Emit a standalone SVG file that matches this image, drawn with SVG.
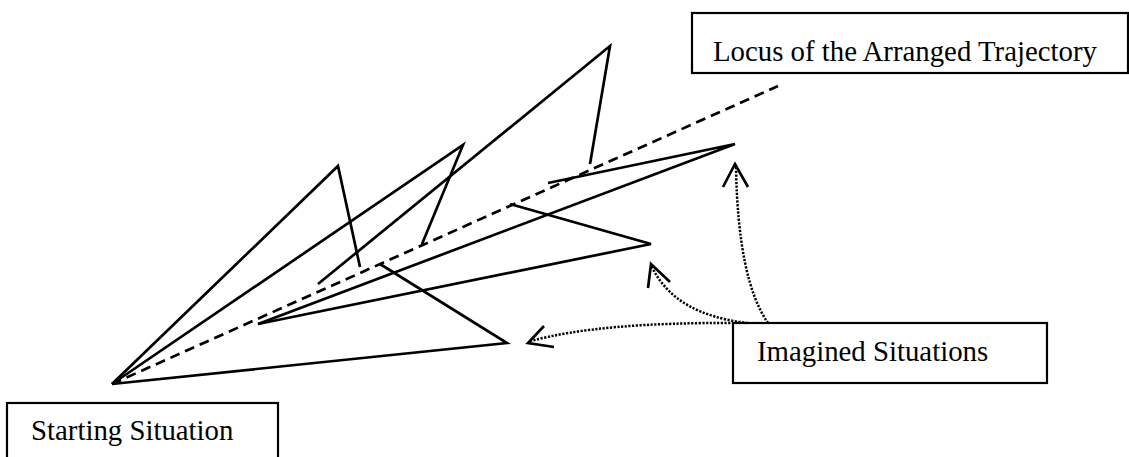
<svg xmlns="http://www.w3.org/2000/svg" width="1129" height="457" viewBox="0 0 1129 457">
<style>
.bg{fill:#ffffff}
.box{fill:#ffffff;stroke:#000;stroke-width:2.2}
.lbl{font-family:"Liberation Serif","Times New Roman",serif;font-size:28.8px;fill:#000}
.tr{fill:none;stroke:#000;stroke-width:2.7;stroke-linejoin:miter;stroke-linecap:butt}
.dash{fill:none;stroke:#000;stroke-width:2.7;stroke-dasharray:10 6}
.dot{fill:none;stroke:#000;stroke-width:2.5;stroke-dasharray:2.2 1.5}
.head{fill:none;stroke:#000;stroke-width:2.7;stroke-linejoin:miter}
</style>
<rect class="bg" x="0" y="0" width="1129" height="457"/>
<g id="connectors">
  <path class="dash" d="M112 384 L778 86"/>
  <path class="tr" d="M112 384 L338 166 L360 267"/>
  <path class="tr" d="M112 384 L463 145 L422 244"/>
  <path class="tr" d="M318 284 L610 46 L590 164"/>
  <path class="tr" d="M258 324 L735 144 L548 183"/>
  <path class="tr" d="M258 324 L651 244 L510 204"/>
  <path class="tr" d="M112 384 L507 343 L380 264"/>
  <path class="dot" d="M738 323 Q600 322 531 341"/>
  <path class="head" d="M544 326 L528 343 L554 347"/>
  <path class="dot" d="M748 323 Q675 315 652 267"/>
  <path class="head" d="M648 288 L651 264 L670 282"/>
  <path class="dot" d="M768 323 Q738 280 736 167"/>
  <path class="head" d="M723 187 L735 164 L748 187"/>
</g>
<g id="locus">
  <rect class="box" x="692" y="13" width="436" height="60"/>
  <text class="lbl" x="713" y="61">Locus of the Arranged Trajectory</text>
</g>
<g id="imagined">
  <rect class="box" x="733" y="323" width="314" height="60"/>
  <text class="lbl" x="757" y="361">Imagined Situations</text>
</g>
<g id="starting">
  <rect class="box" x="7" y="403" width="271" height="64"/>
  <text class="lbl" x="31" y="440">Starting Situation</text>
</g>
</svg>
